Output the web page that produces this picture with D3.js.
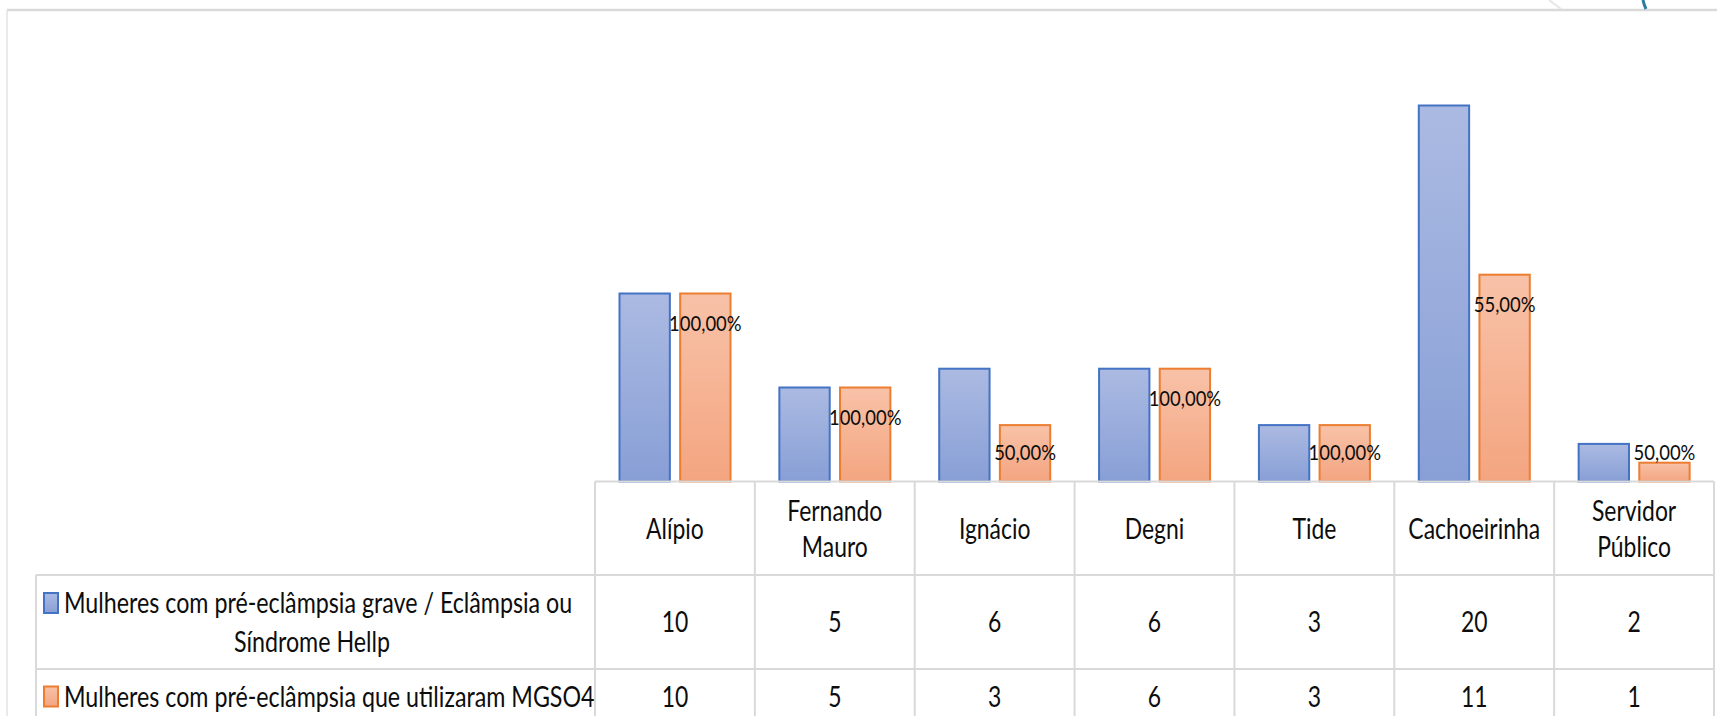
<!DOCTYPE html>
<html>
<head>
<meta charset="utf-8">
<script src="https://cdn.jsdelivr.net/npm/d3@7"></script>
<style>
  html, body { margin: 0; padding: 0; background: #fff; }
  svg { display: block; }
  text { font-family: Lato, "Open Sans", "Noto Sans", sans-serif; fill: #0d0d0d; }
</style>
</head>
<body>
<svg id="chart" width="1717" height="716"></svg>
<script>
// Units (hospitals / health units)
const categories = ["Alípio", "Fernando Mauro", "Ignácio", "Degni", "Tide", "Cachoeirinha", "Servidor Público"];
// Header labels as they wrap inside the data-table cells
const categoryLines = [["Alípio"], ["Fernando", "Mauro"], ["Ignácio"], ["Degni"], ["Tide"], ["Cachoeirinha"], ["Servidor", "Público"]];

// Series
const seriesNames = [
  "Mulheres com pré-eclâmpsia grave / Eclâmpsia ou Síndrome Hellp",
  "Mulheres com pré-eclâmpsia que utilizaram MGSO4"
];
const severeCases = [10, 5, 6, 6, 3, 20, 2];
const mgso4Cases  = [10, 5, 3, 6, 3, 11, 1];

const yMax = 25;

const svg = d3.select("#chart");
const W = 1717, H = 716;

// Layout
const tableLeft = 595, tableRight = 1714;
const baseY = 481.5, topY = 11.5;
const headerBottom = 575, row1Bottom = 669, row2Bottom = 724;
const legendLeft = 36;
const gridColor = "#d9d9d9";

// Slide frame
svg.append("line").attr("x1", 7).attr("x2", W).attr("y1", 10).attr("y2", 10)
  .attr("stroke", gridColor).attr("stroke-width", 2.5);
svg.append("line").attr("x1", 7).attr("x2", 7).attr("y1", 10).attr("y2", H)
  .attr("stroke", "#e3e3e3").attr("stroke-width", 1.5);
// corner ornaments
svg.append("line").attr("x1", 1549).attr("y1", 0).attr("x2", 1561).attr("y2", 9)
  .attr("stroke", "#e6e6e6").attr("stroke-width", 2);
svg.append("path").attr("d", "M1643,0 Q1644,5 1646,9")
  .attr("fill", "none").attr("stroke", "#2b7c9e").attr("stroke-width", 3);

// Scales
const x0 = d3.scaleBand().domain(categories).range([tableLeft, tableRight]).padding(0);
const x1 = d3.scaleBand().domain([0, 1]).range([24.5, 135.5]).paddingInner(0.17);
const y = d3.scaleLinear().domain([0, yMax]).range([baseY, topY]);

// Gradients
const defs = svg.append("defs");
const grads = [
  { id: "gBlue", top: "#abbae2", bottom: "#889fd6", stroke: "#4472c4" },
  { id: "gOrange", top: "#f8c2a8", bottom: "#f4a580", stroke: "#ed7d31" }
];
grads.forEach(g => {
  const lg = defs.append("linearGradient").attr("id", g.id)
    .attr("x1", 0).attr("y1", 0).attr("x2", 0).attr("y2", 1);
  lg.append("stop").attr("offset", "0%").attr("stop-color", g.top);
  lg.append("stop").attr("offset", "100%").attr("stop-color", g.bottom);
});

// Bars
const seriesValues = [severeCases, mgso4Cases];
const barsG = svg.append("g");
seriesValues.forEach((vals, si) => {
  barsG.selectAll(null).data(categories).join("rect")
    .attr("x", (c) => x0(c) + x1(si))
    .attr("width", x1.bandwidth())
    .attr("y", (c, i) => y(vals[i]))
    .attr("height", (c, i) => baseY - y(vals[i]))
    .attr("fill", `url(#${grads[si].id})`)
    .attr("stroke", grads[si].stroke)
    .attr("stroke-width", 2);
});

// text helper: horizontally condensed text
function label(g, x, yy, str, size, sx, anchor = "middle") {
  return g.append("text")
    .attr("transform", `translate(${x},${yy}) scale(${sx},1)`)
    .attr("text-anchor", anchor)
    .attr("font-size", size)
    .text(str);
}

// Data labels: share of severe cases that received MGSO4
const pct = d3.format(".2f");
const labelsG = svg.append("g");
categories.forEach((c, i) => {
  const share = mgso4Cases[i] / severeCases[i] * 100;
  const txt = pct(share).replace(".", ",") + "%";
  const cx = x0(c) + x1(1) + x1.bandwidth() / 2;
  const cy = Math.min(y(mgso4Cases[i]) + 30, baseY - 29);
  label(labelsG, cx, cy + 7.5, txt, 20.5, 0.9);
});

// Data table grid
const grid = svg.append("g").attr("stroke", gridColor).attr("stroke-width", 2);
grid.append("line").attr("x1", tableLeft).attr("x2", tableRight).attr("y1", baseY).attr("y2", baseY);
[headerBottom, row1Bottom].forEach(yy =>
  grid.append("line").attr("x1", legendLeft).attr("x2", tableRight).attr("y1", yy).attr("y2", yy));
grid.append("line").attr("x1", legendLeft).attr("x2", legendLeft).attr("y1", headerBottom).attr("y2", H + 10);
categories.forEach(c =>
  grid.append("line").attr("x1", x0(c)).attr("x2", x0(c)).attr("y1", baseY).attr("y2", H + 10));
grid.append("line").attr("x1", tableRight).attr("x2", tableRight).attr("y1", baseY).attr("y2", H + 10);

// Header texts
const tableG = svg.append("g");
const fs = 29, sx = 0.79, lineGap = 36, capH = fs * 0.72;
categories.forEach((c, i) => {
  const lines = categoryLines[i];
  const cx = x0(c) + x0.bandwidth() / 2;
  const cy = (baseY + headerBottom) / 2;
  lines.forEach((ln, k) => {
    const ly = cy + (k - (lines.length - 1) / 2) * lineGap + capH / 2;
    label(tableG, cx, ly, ln, fs, sx);
  });
});

// Value rows
const rowCenters = [(headerBottom + row1Bottom) / 2, (row1Bottom + row2Bottom) / 2];
seriesValues.forEach((vals, si) => {
  categories.forEach((c, i) => {
    const cx = x0(c) + x0.bandwidth() / 2;
    label(tableG, cx, rowCenters[si] + capH / 2, String(vals[i]), fs, sx);
  });
});

// Legend cells
const legFs = 28, legSx = 0.83;
const legCap = legFs * 0.72;
// row 1: two lines
const r1 = rowCenters[0];
const l1y = r1 - 19, l2y = r1 + 20;
svg.append("rect").attr("x", 44).attr("y", l1y - 10).attr("width", 14).attr("height", 20)
  .attr("fill", "url(#gBlue)").attr("stroke", "#4472c4").attr("stroke-width", 2);
label(tableG, 64, l1y + legCap / 2, "Mulheres com pré-eclâmpsia grave / Eclâmpsia ou", legFs, legSx, "start");
label(tableG, 312, l2y + legCap / 2, "Síndrome Hellp", legFs, legSx);
// row 2
const r2 = rowCenters[1];
svg.append("rect").attr("x", 44).attr("y", r2 - 10).attr("width", 14).attr("height", 20)
  .attr("fill", "url(#gOrange)").attr("stroke", "#ed7d31").attr("stroke-width", 2);
label(tableG, 64, r2 + legCap / 2, seriesNames[1], legFs, legSx, "start");
</script>
</body>
</html>
